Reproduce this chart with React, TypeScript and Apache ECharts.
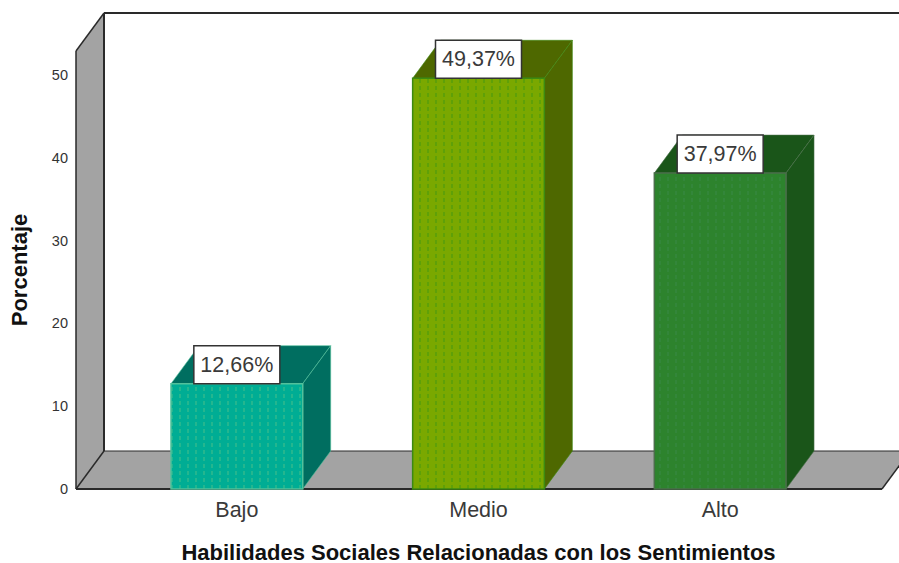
import React, { useEffect, useRef } from "react";
import * as echarts from "echarts";

const categories = ["Bajo", "Medio", "Alto"];
const percentages = [12.66, 49.37, 37.97];
const xTitle = "Habilidades Sociales Relacionadas con los Sentimientos";
const yTitle = "Porcentaje";

const FONT = '"Liberation Sans", Arial, sans-serif';
const DEPTH_X = 28;
const DEPTH_Y = 38;
const WALL_OVERHANG = 40;
const BAR_RATIO = 0.545;
const WALL = "#a3a3a3";
const EDGE = "#2a2a2a";
const barStyles = [
  { front: "#00ad94", dot: "#24b68f", shade: "#006e60", border: "#52c19b" },
  { front: "#7aa800", dot: "#5fa008", shade: "#4e6800", border: "#3c8a12" },
  { front: "#2d832d", dot: "#33863a", shade: "#1a5519", border: "#4a6e4a" },
];

function dotPattern(bg: string, dot: string) {
  const c = document.createElement("canvas");
  c.width = 8;
  c.height = 7;
  const g = c.getContext("2d")!;
  g.fillStyle = bg;
  g.fillRect(0, 0, 8, 7);
  g.fillStyle = dot;
  g.fillRect(3, 2, 2, 4);
  return { image: c, repeat: "repeat" };
}

export default function App() {
  const ref = useRef<HTMLDivElement>(null);
  useEffect(() => {
    const chart = echarts.init(ref.current!, undefined, { renderer: "svg" });
    const patterns = barStyles.map((s) => dotPattern(s.front, s.dot));

    const renderWalls = (params: any, api: any) => {
      if (params.dataIndex !== 0) return null;
      const cs = params.coordSys;
      const l = cs.x - WALL_OVERHANG;
      const r = cs.x + cs.width + WALL_OVERHANG + 1;
      const t = cs.y;
      const b = cs.y + cs.height;
      const poly = (points: number[][], fill: string) => ({
        type: "polygon",
        shape: { points },
        style: { fill, stroke: "none" },
      });
      const line = (x1: number, y1: number, x2: number, y2: number, w: number) => ({
        type: "line",
        shape: { x1, y1, x2, y2 },
        style: { stroke: EDGE, lineWidth: w },
      });
      return {
        type: "group",
        children: [
          poly([[l, b], [l, t], [l + DEPTH_X, t - DEPTH_Y], [l + DEPTH_X, b - DEPTH_Y]], WALL),
          poly([[l, b], [r, b], [r + DEPTH_X, b - DEPTH_Y], [l + DEPTH_X, b - DEPTH_Y]], WALL),
          line(l, t, l + DEPTH_X, t - DEPTH_Y, 1.5),
          line(l, t, l, b, 1.5),
          line(l + DEPTH_X, t - DEPTH_Y, l + DEPTH_X, b - DEPTH_Y, 2),
          line(l + DEPTH_X, t - DEPTH_Y, r + DEPTH_X, t - DEPTH_Y, 2),
          line(l + DEPTH_X, b - DEPTH_Y, r + DEPTH_X, b - DEPTH_Y, 1.2),
          line(l, b, l + DEPTH_X, b - DEPTH_Y, 1.5),
          line(l, b, r, b, 2),
          line(r, b, r + DEPTH_X, b - DEPTH_Y, 1.5),
        ],
      };
    };

    const renderBar = (params: any, api: any) => {
      const i = params.dataIndex;
      const s = barStyles[i];
      const val = api.value(1);
      const [cx, top] = api.coord([api.value(0), val]);
      const [, base] = api.coord([api.value(0), 0]);
      const w = api.size([1, 0])[0] * BAR_RATIO;
      const l = cx - w / 2;
      const r = cx + w / 2;
      const txt = val.toFixed(2).replace(".", ",") + "%";
      const boxW = 86;
      const boxH = 38;
      return {
        type: "group",
        children: [
          {
            type: "polygon",
            shape: { points: [[l, top], [r, top], [r + DEPTH_X, top - DEPTH_Y], [l + DEPTH_X, top - DEPTH_Y]] },
            style: { fill: s.shade, stroke: s.border, lineWidth: 0.6 },
          },
          {
            type: "polygon",
            shape: { points: [[r, top], [r + DEPTH_X, top - DEPTH_Y], [r + DEPTH_X, base - DEPTH_Y], [r, base]] },
            style: { fill: s.shade, stroke: s.border, lineWidth: 0.6 },
          },
          {
            type: "rect",
            shape: { x: l, y: top, width: w, height: base - top },
            style: { fill: patterns[i], stroke: s.border, lineWidth: 1.5 },
          },
          {
            type: "rect",
            shape: { x: cx - boxW / 2, y: top - boxH, width: boxW, height: boxH },
            style: { fill: "#ffffff", stroke: "#333333", lineWidth: 1.5 },
          },
          {
            type: "text",
            style: {
              text: txt,
              x: cx,
              y: top - boxH / 2,
              align: "center",
              verticalAlign: "middle",
              fill: "#3a3a3a",
              font: `21.5px ${FONT}`,
            },
          },
        ],
      };
    };

    chart.setOption({
      animation: false,
      backgroundColor: "#ffffff",
      grid: { left: 116, top: 51, width: 725, height: 438, containLabel: false, outerBoundsMode: "none" },
      xAxis: {
        type: "category",
        data: categories,
        axisLine: { show: false },
        axisTick: { show: false },
        axisLabel: { color: "#3a3a3a", fontFamily: FONT, fontSize: 21.5, margin: 10 },
        name: xTitle,
        nameLocation: "middle",
        nameGap: 52,
        nameTextStyle: { color: "#111111", fontFamily: FONT, fontWeight: "bold", fontSize: 22 },
      },
      yAxis: [
        {
          type: "value",
          min: 0,
          max: 52.9,
          interval: 10,
          offset: 40,
          position: "left",
          splitLine: { show: false },
          axisLine: { show: false },
          axisTick: { show: false },
          axisLabel: { color: "#333333", fontFamily: FONT, fontSize: 14.5, margin: 8, showMaxLabel: false },
          name: yTitle,
          nameLocation: "middle",
          nameGap: 46,
          nameTextStyle: { color: "#111111", fontFamily: FONT, fontWeight: "bold", fontSize: 22 },
        },
        { type: "value", min: 0, max: 52.65, show: false, splitLine: { show: false } },
      ],
      series: [
        {
          type: "custom",
          name: "walls",
          coordinateSystem: "cartesian2d",
          renderItem: renderWalls,
          data: categories.map((_, i) => [i, 0]),
          silent: true,
          z: 1,
        },
        {
          type: "custom",
          name: "bars",
          coordinateSystem: "cartesian2d",
          yAxisIndex: 1,
          renderItem: renderBar,
          encode: { x: 0, y: 1 },
          data: categories.map((_, i) => [i, percentages[i]]),
          z: 2,
        },
      ],
    });
    return () => chart.dispose();
  }, []);
  return <div ref={ref} style={{ position: "fixed", left: 0, top: 0, width: 899, height: 563 }} />;
}
